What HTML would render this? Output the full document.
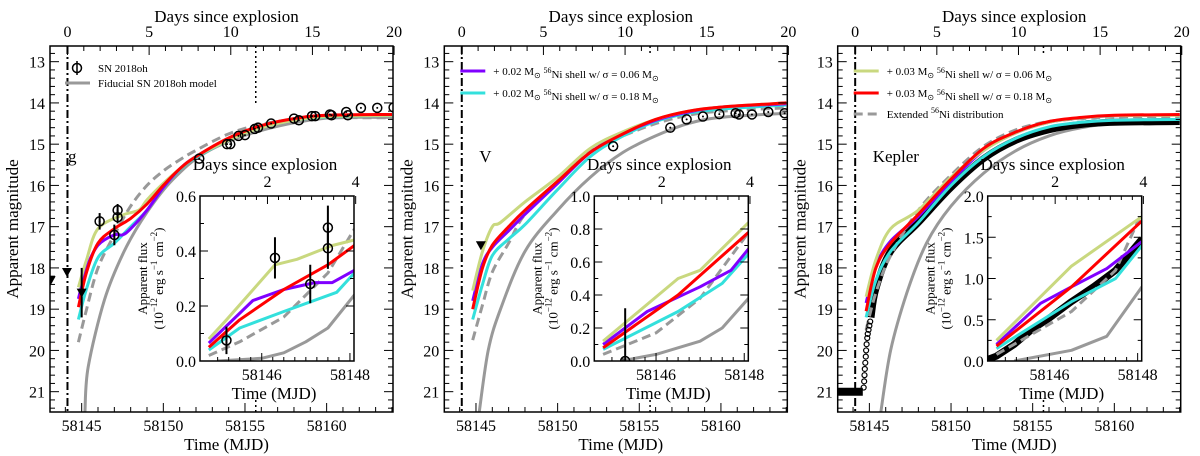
<!DOCTYPE html>
<html><head><meta charset="utf-8">
<style>
html,body{margin:0;padding:0;background:#fff;}
svg{display:block;font-family:"Liberation Serif",serif;}
</style></head>
<body>
<svg id="fig" width="1200" height="456" viewBox="0 0 1200 456" xmlns="http://www.w3.org/2000/svg"></svg>
<script>
// ===== DATA =====
const panelBands = ["g","V","Kepler"];
const insetYMax = [0.6, 1.0, 2.0];
const magTicks = [13,14,15,16,17,18,19,20,21];
const mjdTicks = [58145,58150,58155,58160];
const dayTicks = [0,5,10,15,20];
const explosionMJD = 58144.13;

// Panel 1 (g) curves [mjd, mag]
const gYellow = [[58144.8,18.47],[58145.3,17.8],[58146,17.05],[58147.5,16.72],[58148.5,16.6],[58149,16.35],[58150,15.95],[58151,15.6],[58152,15.3],[58154,14.9],[58156,14.6],[58158,14.42],[58160,14.33],[58164,14.3]];
const gPurple = [[58144.8,18.75],[58145.3,18.0],[58146,17.45],[58147,17.2],[58147.5,17.2],[58148,17.05],[58149,16.6],[58150,16.05],[58151,15.6],[58152,15.3],[58154,14.88],[58156,14.57],[58158,14.4],[58160,14.32],[58164,14.29]];
const gRed = [[58144.8,18.95],[58145.3,18.1],[58146,17.4],[58147,17.05],[58148,16.8],[58149,16.45],[58150,16.0],[58151,15.6],[58152,15.3],[58154,14.85],[58156,14.55],[58158,14.38],[58160,14.3],[58164,14.28]];
const gCyan = [[58144.8,19.25],[58145.3,18.5],[58146,17.75],[58147,17.4],[58148,17.0],[58149,16.6],[58150,16.05],[58151,15.62],[58152,15.32],[58154,14.9],[58156,14.6],[58158,14.42],[58160,14.34],[58164,14.3]];
const gDash = [[58144.8,19.8],[58145.3,19.0],[58146,18.0],[58147,17.2],[58148,16.5],[58149,16.0],[58150,15.65],[58151,15.38],[58152,15.15],[58154,14.75],[58156,14.52],[58158,14.4],[58160,14.36],[58164,14.36]];
const gFid = [[58145.2,21.5],[58145.4,20.4],[58146.4,18.77],[58147.6,17.6],[58149,16.65],[58150.6,15.85],[58152.6,15.2],[58155.7,14.7],[58159.7,14.38],[58164,14.35]];
const gObs = [[58146.1,16.87,0.2],[58147.0,17.2,0.25],[58147.2,16.6,0.15],[58147.2,16.77,0.15],[58152.2,15.35,0.05],[58153.9,15.0,0.05],[58154.1,15.0,0.05],[58154.6,14.8,0.05],[58155.0,14.78,0.05],[58155.6,14.63,0.05],[58155.8,14.6,0.05],[58156.6,14.5,0.05],[58158.0,14.38,0.05],[58158.3,14.42,0.05],[58159.1,14.32,0.05],[58159.3,14.32,0.05],[58160.2,14.28,0.05],[58160.3,14.3,0.05],[58161.2,14.22,0.05],[58161.3,14.3,0.05],[58162.1,14.12,0.05],[58163.1,14.12,0.05],[58164.1,14.11,0.05]];
const gLimits = [[58143.1,18.3,0],[58144.1,18.1,0],[58145.0,18.6,0.6]];
// g inset [mjd, flux]
const giYellow = [[58144.8,0.08],[58145.2,0.15],[58146.3,0.35],[58146.8,0.37],[58147.6,0.42],[58148.1,0.44]];
const giPurple = [[58144.8,0.065],[58145.8,0.22],[58146.5,0.26],[58147.2,0.285],[58147.6,0.285],[58148.1,0.33]];
const giRed = [[58144.8,0.05],[58145.5,0.15],[58146.5,0.26],[58147.5,0.35],[58148.1,0.42]];
const giCyan = [[58144.8,0.04],[58145.5,0.12],[58146.5,0.18],[58147.7,0.25],[58148.1,0.32]];
const giDash = [[58144.8,0.02],[58145.5,0.07],[58146.5,0.16],[58147.5,0.32],[58148.1,0.48]];
const giFid = [[58145.0,0.0],[58146,0.01],[58146.5,0.03],[58147.0,0.07],[58147.5,0.12],[58148.1,0.24]];
const giObs = [[58145.2,0.075,0.05],[58146.3,0.375,0.075],[58147.1,0.28,0.07],[58147.5,0.41,0.075],[58147.5,0.485,0.08]];

// Panel 2 (V)
const vYellow = [[58144.8,18.55],[58145.4,17.6],[58146,17.0],[58146.5,16.9],[58148,16.4],[58150,15.8],[58152,15.1],[58154,14.7],[58156,14.4],[58158,14.2],[58160,14.1],[58164,14.0]];
const vPurple = [[58144.8,18.8],[58145.4,17.9],[58146,17.5],[58147,17.1],[58147.5,16.9],[58148,16.7],[58150,15.95],[58152,15.2],[58154,14.75],[58156,14.42],[58158,14.22],[58160,14.1],[58164,14.02]];
const vRed = [[58144.8,19.0],[58145.4,18.0],[58146,17.45],[58147,17.0],[58148,16.6],[58150,15.9],[58152,15.2],[58154,14.75],[58156,14.4],[58158,14.2],[58160,14.1],[58164,14.0]];
const vCyan = [[58144.8,19.25],[58145.4,18.4],[58146,17.7],[58147,17.3],[58148,16.95],[58150,16.1],[58152,15.3],[58154,14.8],[58156,14.45],[58158,14.25],[58160,14.15],[58164,14.05]];
const vDash = [[58144.8,19.75],[58145.4,18.9],[58146,18.1],[58147,17.4],[58148,16.7],[58150,15.95],[58152,15.15],[58154,14.8],[58156,14.5],[58158,14.3],[58160,14.2],[58164,14.12]];
const vFid = [[58145.2,21.5],[58145.75,20.0],[58146.5,19.0],[58148,17.6],[58150,16.6],[58152,15.8],[58154,15.2],[58156,14.8],[58158,14.5],[58160,14.35],[58164,14.25]];
const vObs = [[58153.4,15.05,0.05],[58156.9,14.6,0.05],[58157.9,14.4,0.05],[58158.9,14.33,0.05],[58159.9,14.27,0.05],[58160.9,14.25,0.05],[58161.1,14.28,0.05],[58161.9,14.28,0.05],[58162.9,14.22,0.05],[58163.9,14.25,0.05]];
const vLimits = [[58145.3,17.45,0]];
const viYellow = [[58144.8,0.12],[58146.5,0.5],[58147,0.55],[58148.1,0.84]];
const viPurple = [[58144.8,0.1],[58145.8,0.3],[58147,0.45],[58147.7,0.55],[58148.1,0.68]];
const viRed = [[58144.8,0.08],[58146.5,0.4],[58148.1,0.78]];
const viCyan = [[58144.8,0.07],[58146.5,0.3],[58147.5,0.47],[58148.1,0.65]];
const viDash = [[58144.8,0.04],[58146,0.17],[58147,0.38],[58148.1,0.78]];
const viFid = [[58145.2,0.0],[58146,0.04],[58147,0.12],[58147.5,0.2],[58148.1,0.38]];
const viObs = [[58145.3,0.0,0.32]];

// Panel 3 (Kepler)
const kYellow = [[58144.8,18.7],[58145.4,17.8],[58146.3,17.05],[58148,16.6],[58150,15.8],[58152,15.15],[58154,14.72],[58156,14.47],[58158,14.36],[58160,14.31],[58164,14.3]];
const kPurple = [[58144.8,18.85],[58145.4,17.95],[58146.3,17.35],[58148,16.75],[58150,15.9],[58152,15.15],[58154,14.72],[58156,14.47],[58158,14.36],[58160,14.31],[58164,14.29]];
const kRed = [[58144.8,19.05],[58145.4,18.0],[58146.3,17.4],[58148,16.7],[58150,15.85],[58152,15.1],[58154,14.7],[58156,14.45],[58158,14.35],[58160,14.3],[58164,14.28]];
const kCyan = [[58144.8,19.2],[58145.4,18.3],[58146.3,17.6],[58148,16.9],[58150,16.0],[58152,15.3],[58154,14.85],[58156,14.58],[58158,14.47],[58160,14.42],[58164,14.4]];
const kDash = [[58144.8,19.5],[58145.4,18.6],[58146.3,17.7],[58148,16.6],[58150,15.75],[58152,15.05],[58154,14.65],[58156,14.45],[58158,14.38],[58160,14.34],[58164,14.33]];
const kFid = [[58145.7,21.5],[58146.3,20.0],[58147.3,18.6],[58148.5,17.4],[58150,16.5],[58152,15.7],[58154,15.15],[58156,14.8],[58158,14.6],[58160,14.5],[58164,14.45]];
const kObsLine = [[58145.1,19.2],[58145.4,18.5],[58146.3,17.6],[58148,16.9],[58150,16.05],[58152,15.35],[58154,14.9],[58156,14.65],[58158,14.52],[58160,14.47],[58164,14.45]];
const kObsEarly = [[58144.65,20.9],[58144.68,20.75],[58144.7,20.6],[58144.72,20.45],[58144.75,20.3],[58144.78,20.15],[58144.8,20.0],[58144.83,19.85],[58144.87,19.7],[58144.9,19.6],[58144.95,19.5],[58145.0,19.4],[58145.05,19.3]];
const kFloor = [[58143.06,21.0],[58144.6,21.0]];
const kiYellow = [[58144.8,0.25],[58146.5,1.15],[58148.1,1.75]];
const kiPurple = [[58144.8,0.2],[58145.8,0.7],[58146.5,0.9],[58147.3,1.12],[58148.1,1.45]];
const kiRed = [[58144.8,0.18],[58146.5,0.9],[58148.1,1.7]];
const kiCyan = [[58144.8,0.15],[58146.5,0.72],[58147.5,1.0],[58148.1,1.4]];
const kiDash = [[58144.8,0.08],[58146.5,0.6],[58147.5,1.1],[58148.1,1.8]];
const kiFid = [[58145.2,0.0],[58146.5,0.13],[58147.3,0.3],[58148.1,0.9]];
const kiObs = [[58144.6,0.02],[58144.8,0.06],[58145.2,0.2],[58145.6,0.38],[58146,0.52],[58146.5,0.72],[58147,0.9],[58147.5,1.1],[58148.1,1.48]];

// ===== DRAWING =====
const NS="http://www.w3.org/2000/svg";
const svg=document.getElementById('fig');
const YEL="#c9d87f",PUR="#8000ff",RED="#ff0000",CYA="#33e0dc",GRY="#999999";
const panelLeft=[50,444.3,837.7];
const BW=343,BT=46,BB=412;
const X0=58143.06,PXD=16.33,M0=12.62,PXM=41.25;
const IX0=58144.6,IPXD=44.1,IT=196,IB=361,IW=154;

function mk(tag,attrs,parent){const e=document.createElementNS(NS,tag);for(const k in attrs)e.setAttribute(k,attrs[k]);(parent||svg).appendChild(e);return e;}
function txt(s,x,y,size,anchor,parent,rot){const t=mk('text',{x:x,y:y,'font-size':size,'text-anchor':anchor||'middle',fill:'#000'},parent);if(rot)t.setAttribute('transform','rotate(-90 '+x+' '+y+')');t.textContent=s;return t;}
function pathFrom(pts,fx,fy){return pts.map((p,i)=>(i?'L':'M')+fx(p[0]).toFixed(1)+' '+fy(p[1]).toFixed(1)).join(' ');}
function smoothFrom(pts,fx,fy){
  const P=pts.map(p=>[fx(p[0]),fy(p[1])]);
  let d='M'+P[0][0].toFixed(1)+' '+P[0][1].toFixed(1);
  for(let i=0;i<P.length-1;i++){const p0=P[Math.max(0,i-1)],p1=P[i],p2=P[i+1],p3=P[Math.min(P.length-1,i+2)];
    const c1=[p1[0]+(p2[0]-p0[0])/6,p1[1]+(p2[1]-p0[1])/6],c2=[p2[0]-(p3[0]-p1[0])/6,p2[1]-(p3[1]-p1[1])/6];
    d+=' C'+c1.map(v=>v.toFixed(1)).join(' ')+' '+c2.map(v=>v.toFixed(1)).join(' ')+' '+p2[0].toFixed(1)+' '+p2[1].toFixed(1);}
  return d;}

function drawPanel(i,cfg){
  const L=panelLeft[i],R=L+BW;
  const xs=m=>L+(m-X0)*PXD, ys=v=>BT+(v-M0)*PXM;
  const g=mk('g',{});
  
  
  mk('clipPath',{id:'c'+i},g).appendChild(document.createElementNS(NS,'rect'));
  const cr=g.querySelector('clipPath rect');cr.setAttribute('x',L);cr.setAttribute('y',BT);cr.setAttribute('width',BW);cr.setAttribute('height',BB-BT);
  const plot=mk('g',{'clip-path':'url(#c'+i+')'},g);
  const ex=xs(explosionMJD);
  const dd=mk('line',{x1:ex,x2:ex,y1:BT,y2:BB,stroke:'#000','stroke-width':2,'stroke-dasharray':'8 3 2 3'},plot);
  
  const dx=xs(58155.66);
  mk('line',{x1:dx,x2:dx,y1:BT,y2:i==0?103:56,stroke:'#000','stroke-width':1.5,'stroke-dasharray':'2 3'},plot);
  mk('line',{x1:dx,x2:dx,y1:BB-12,y2:BB,stroke:'#000','stroke-width':1.5,'stroke-dasharray':'2 3'},plot);
  const draw=(pts,col,w,dash,name)=>{const p=mk('path',{d:smoothFrom(pts,xs,ys),fill:'none',stroke:col,'stroke-width':w,'stroke-linejoin':'round'},plot);if(dash)p.setAttribute('stroke-dasharray',dash);return p;};
  draw(cfg.fid,GRY,3,null,'fiducial-model-line');
  if(cfg.obsLine){draw(cfg.obsLine,'#000',7,null,'kepler-data-band');draw(cfg.floor,'#000',8,null,'kepler-limit-band');}
  draw(cfg.dash,GRY,3,'9 5','extended-ni-line');
  draw(cfg.cyan,CYA,3,null,'ni-shell-0.18-line');
  draw(cfg.purple,PUR,3,null,'ni-shell-0.06-line');
  draw(cfg.yellow,YEL,3,null,'ni-shell-0.06-high-line');
  draw(cfg.red,RED,3,null,'ni-shell-0.18-high-line');
  if(cfg.early) cfg.early.forEach(p=>{const c=mk('circle',{cx:xs(p[0]),cy:ys(p[1]),r:2.5,fill:'none',stroke:'#000','stroke-width':1.2},plot);});
  (cfg.obs||[]).forEach(p=>{const x=xs(p[0]),y=ys(p[1]);
    if(p[2]>0.06)mk('line',{x1:x,x2:x,y1:ys(p[1]-p[2]),y2:ys(p[1]+p[2]),stroke:'#000','stroke-width':2},plot);
    const c=mk('circle',{cx:x,cy:y,r:4.5,fill:'none',stroke:'#000','stroke-width':1.5},plot);
    
    mk('circle',{cx:x,cy:y,r:1,fill:'#000'},plot);});
  (cfg.limits||[]).forEach(p=>{const x=xs(p[0]),y=ys(p[1]);
    if(p[2])mk('line',{x1:x,x2:x,y1:ys(p[1]-p[2]),y2:ys(p[1]+p[2]),stroke:'#000','stroke-width':2},plot);
    const t=mk('path',{d:`M${x-5} ${y-4} L${x+5} ${y-4} L${x} ${y+5} Z`,fill:'#000'},plot);
    });
  mk('rect',{x:L,y:BT,width:BW,height:BB-BT,fill:'none',stroke:'#000','stroke-width':1.5},g);
  for(let m=12.8;m<=21.41;m+=0.2){const y=ys(m);const maj=Math.abs(m-Math.round(m))<0.01;const len=maj?9:5;
    mk('line',{x1:L,x2:L+len,y1:y,y2:y,stroke:'#000','stroke-width':1},g);mk('line',{x1:R,x2:R-len,y1:y,y2:y,stroke:'#000','stroke-width':1},g);}
  magTicks.forEach(m=>txt(String(m),L-5,ys(m)+6,16,'end',g));
  for(let m=58144;m<=58164;m++){const x=xs(m);const len=m%5==0?9:5;mk('line',{x1:x,x2:x,y1:BB,y2:BB-len,stroke:'#000','stroke-width':1},g);}
  mjdTicks.forEach(m=>txt(String(m),xs(m),BB+19,16,'middle',g));
  for(let d=0;d<=20;d++){const x=xs(explosionMJD+d);const len=d%5==0?9:5;mk('line',{x1:x,x2:x,y1:BT,y2:BT+len,stroke:'#000','stroke-width':1},g);}
  dayTicks.forEach(d=>txt(String(d),xs(explosionMJD+d),BT-9,16,'middle',g));
  txt('Days since explosion',L+BW/2+5,BT-24,17,'middle',g);
  txt('Time (MJD)',L+BW/2+5,BB+38,17,'middle',g);
  txt('Apparent magnitude',L-32,(BT+BB)/2,17,'middle',g,true);
  txt(cfg.band,L+cfg.bandX,162,17,'start',g);
  cfg.legend.forEach((e,k)=>{const y=cfg.legY[k];
    const l=mk('line',{x1:L+cfg.legX,x2:L+cfg.legX+25,y1:y,y2:y,stroke:e[0],'stroke-width':3},g);
    if(e[1])l.setAttribute('stroke-dasharray',e[1]);
    if(e[3]){l.remove();mk('circle',{cx:L+cfg.legX+12,cy:y,r:4.5,fill:'none',stroke:'#000','stroke-width':1.5},g);mk('line',{x1:L+cfg.legX+12,x2:L+cfg.legX+12,y1:y-7,y2:y+7,stroke:'#000','stroke-width':1.5},g);}
    const t=mk('text',{x:L+cfg.legX+33,y:y+4,'font-size':11,fill:'#000'},g);t.innerHTML=e[2];
    });
  // inset
  const IL=L+150,IR=IL+IW,ymax=insetYMax[i];
  const ix=m=>IL+(m-IX0)*IPXD, iy=f=>IB-f/ymax*(IB-IT);
  const ig=mk('g',{},g);
  mk('rect',{x:IL,y:IT,width:IW,height:IB-IT,fill:'#fff'},ig);
  mk('clipPath',{id:'ic'+i},ig).appendChild(document.createElementNS(NS,'rect'));
  const icr=ig.querySelector('clipPath rect');icr.setAttribute('x',IL);icr.setAttribute('y',IT);icr.setAttribute('width',IW);icr.setAttribute('height',IB-IT);
  const ip=mk('g',{'clip-path':'url(#ic'+i+')'},ig);
  const idraw=(pts,col,dash,w)=>{const p=mk('path',{d:pathFrom(pts,ix,iy),fill:'none',stroke:col,'stroke-width':w||3,'stroke-linejoin':'round'},ip);if(dash)p.setAttribute('stroke-dasharray',dash);};
  idraw(cfg.ifid,GRY);
  if(cfg.iobsLine) idraw(cfg.iobsLine,'#000',null,7);
  idraw(cfg.idash,GRY,'9 5');idraw(cfg.icyan,CYA);idraw(cfg.ipurple,PUR);idraw(cfg.iyellow,YEL);idraw(cfg.ired,RED);
  (cfg.iobs||[]).forEach(p=>{const x=ix(p[0]),y=iy(p[1]);
    mk('line',{x1:x,x2:x,y1:iy(p[1]-p[2]),y2:iy(p[1]+p[2]),stroke:'#000','stroke-width':2},ip);
    const c=mk('circle',{cx:x,cy:y,r:4.5,fill:'none',stroke:'#000','stroke-width':1.5},ip);});
  mk('rect',{x:IL,y:IT,width:IW,height:IB-IT,fill:'none',stroke:'#000','stroke-width':1.5},ig);
  const ystep=ymax/6>0.25?0.5:0.2;
  for(let f=0;f<=ymax+1e-6;f+=ystep/2){const y=iy(f);const maj=Math.abs(f/ystep-Math.round(f/ystep))<0.01;const len=maj?8:4;
    mk('line',{x1:IL,x2:IL+len,y1:y,y2:y,stroke:'#000'},ig);mk('line',{x1:IR,x2:IR-len,y1:y,y2:y,stroke:'#000'},ig);
    if(maj)txt(f.toFixed(1),IL-4,y+6,16,'end',ig);}
  for(let m=58145;m<=58148;m+=0.25){const x=ix(m);const maj=Math.abs(m-Math.round(m))<0.01&&Math.round(m)%2==0;mk('line',{x1:x,x2:x,y1:IB,y2:IB-(maj?8:4),stroke:'#000'},ig);}
  [58146,58148].forEach(m=>txt(String(m),ix(m),IB+19,16,'middle',ig));
  for(let d=1;d<=4;d+=0.25){const x=ix(explosionMJD+d);const maj=Math.abs(d-Math.round(d))<0.01&&Math.round(d)%2==0;mk('line',{x1:x,x2:x,y1:IT,y2:IT+(maj?8:4),stroke:'#000'},ig);}
  [2,4].forEach(d=>txt(String(d),ix(explosionMJD+d),IT-9,16,'middle',ig));
  txt('Days since explosion',IL+IW/2-12,IT-26,17,'middle',ig);
  txt('Time (MJD)',IL+IW/2-3,IB+38,17,'middle',ig);
  const yl=mk('text',{x:IL-45,y:(IT+IB)/2,'font-size':13,'text-anchor':'middle',transform:`rotate(-90 ${IL-45} ${(IT+IB)/2})`},ig);
  yl.innerHTML='<tspan x="'+(IL-45)+'" dy="-8">Apparent flux</tspan><tspan x="'+(IL-45)+'" dy="16">(10</tspan><tspan font-size="9" dy="-6">−12</tspan><tspan dy="6"> erg s</tspan><tspan font-size="9" dy="-6">−1</tspan><tspan dy="6"> cm</tspan><tspan font-size="9" dy="-6">−2</tspan><tspan dy="6">)</tspan>';
}
const sun='M<tspan font-size="8" dy="3">⊙</tspan><tspan dy="-3"></tspan>';
const ni='<tspan font-size="8" dy="-5">56</tspan><tspan dy="5">Ni</tspan>';
drawPanel(0,{band:'g',bandX:18,fid:gFid,dash:gDash,cyan:gCyan,purple:gPurple,yellow:gYellow,red:gRed,obs:gObs,limits:gLimits,
  legX:15,legY:[68,83],legend:[['#000',null,'SN 2018oh',true],[GRY,null,'Fiducial SN 2018oh model']],
  ifid:giFid,idash:giDash,icyan:giCyan,ipurple:giPurple,iyellow:giYellow,ired:giRed,iobs:giObs});
drawPanel(1,{band:'V',bandX:35,fid:vFid,dash:vDash,cyan:vCyan,purple:vPurple,yellow:vYellow,red:vRed,obs:vObs,limits:vLimits,
  legX:16,legY:[71,93],legend:[[PUR,null,'+ 0.02 '+sun+' '+ni+' shell w/ σ = 0.06 '+sun],[CYA,null,'+ 0.02 '+sun+' '+ni+' shell w/ σ = 0.18 '+sun]],
  ifid:viFid,idash:viDash,icyan:viCyan,ipurple:viPurple,iyellow:viYellow,ired:viRed,iobs:viObs});
drawPanel(2,{band:'Kepler',bandX:35,fid:kFid,dash:kDash,cyan:kCyan,purple:kPurple,yellow:kYellow,red:kRed,obsLine:kObsLine,floor:kFloor,early:kObsEarly,
  legX:16,legY:[71,93,114],legend:[[YEL,null,'+ 0.03 '+sun+' '+ni+' shell w/ σ = 0.06 '+sun],[RED,null,'+ 0.03 '+sun+' '+ni+' shell w/ σ = 0.18 '+sun],[GRY,'9 5','Extended '+ni+' distribution']],
  ifid:kiFid,iobsLine:kiObs,idash:kiDash,icyan:kiCyan,ipurple:kiPurple,iyellow:kiYellow,ired:kiRed});
</script>
</body></html>
